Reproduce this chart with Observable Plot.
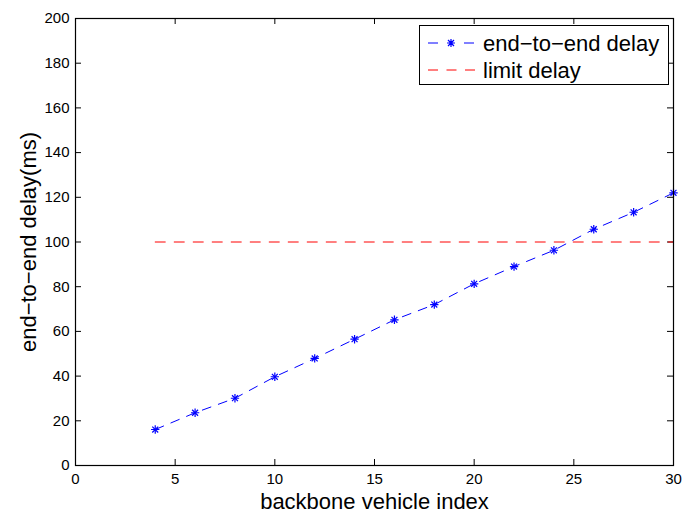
<!DOCTYPE html>
<html><head><meta charset="utf-8">
<script src="https://cdn.jsdelivr.net/npm/d3@7"></script>
<script src="https://cdn.jsdelivr.net/npm/@observablehq/plot@0.6"></script>
<style>
body{margin:0;background:#fff;}
#chart{position:relative;width:683px;height:513px;font-family:"Liberation Sans",Arial,Helvetica,sans-serif;}
#legend{position:absolute;left:0;top:0;}
</style></head><body><div id="chart"></div>
<script>
const vehicleIndex = [4, 6, 8, 10, 12, 14, 16, 18, 20, 22, 24, 26, 28, 30];
const endToEndDelay = [16.1, 23.6, 30.1, 39.7, 47.9, 56.5, 65.2, 72.0, 81.3, 89.0, 96.3, 105.7, 113.3, 122.0];
const limitIndex = [4, 30];
const limitDelay = [100, 100];
const xTicks = [0, 5, 10, 15, 20, 25, 30];
const yTicks = [0, 20, 40, 60, 80, 100, 120, 140, 160, 180, 200];
const seriesNames = ["end\u2212to\u2212end delay", "limit delay"];
const xLabel = "backbone vehicle index";
const yLabel = "end\u2212to\u2212end delay(ms)";

const W = 683, H = 513, mL = 75, mR = 10, mT = 18, mB = 48;
const fw = W - mL - mR, fh = H - mT - mB, tk = 6;
const font = '"Liberation Sans",Arial,Helvetica,sans-serif';

const mainData = vehicleIndex.map((x, i) => ({x, y: endToEndDelay[i]}));
const limitData = limitIndex.map((x, i) => ({x, y: limitDelay[i]}));

const chart = Plot.plot({
  width: W, height: H,
  marginLeft: mL, marginRight: mR, marginTop: mT, marginBottom: mB,
  style: {fontFamily: font, fontSize: "15px", color: "black", background: "white", overflow: "visible"},
  x: {domain: [0, 30]},
  y: {domain: [0, 200]},
  marks: [
    Plot.axisX(xTicks, {anchor: "bottom", tickSize: 0, tickPadding: 8, fontSize: 15, label: null}),
    Plot.axisY(yTicks, {anchor: "left", tickSize: 0, tickPadding: 6, fontSize: 15, label: null}),
    Plot.ruleX(xTicks, {x: d => d, insetTop: fh - tk, stroke: "black"}),
    Plot.ruleX(xTicks, {x: d => d, insetBottom: fh - tk, stroke: "black"}),
    Plot.ruleY(yTicks, {y: d => d, insetRight: fw - tk, stroke: "black"}),
    Plot.ruleY(yTicks, {y: d => d, insetLeft: fw - tk, stroke: "black"}),
    Plot.line(limitData, {x: "x", y: "y", stroke: "#ff0000", strokeWidth: 1, strokeDasharray: "10,9"}),
    Plot.line(mainData, {x: "x", y: "y", stroke: "#0000ff", strokeWidth: 1, strokeDasharray: "9,8"}),
    Plot.dot(mainData, {x: "x", y: "y", symbol: "plus", r: 2.8, stroke: "#0000ff", strokeWidth: 1.2}),
    Plot.dot(mainData, {x: "x", y: "y", symbol: "times", r: 2.8, stroke: "#0000ff", strokeWidth: 1.2}),
    Plot.frame({stroke: "black", strokeWidth: 1.2}),
    Plot.text([xLabel], {text: d => d, frameAnchor: "bottom", textAnchor: "middle", lineAnchor: "bottom", dy: 43, fontSize: 22}),
    Plot.text([yLabel], {text: d => d, frameAnchor: "left", textAnchor: "middle", rotate: -90, dx: -47, fontSize: 22})
  ]
});
document.getElementById("chart").appendChild(chart);

// legend
const lg = d3.select("#chart").append("svg").attr("id", "legend")
  .attr("width", W).attr("height", H).style("pointer-events", "none");
lg.append("rect").attr("x", 419.5).attr("y", 25.5).attr("width", 249).attr("height", 59)
  .attr("fill", "white").attr("stroke", "black").attr("stroke-width", 1);
const r1 = 43, r2 = 70;
lg.append("line").attr("x1", 428).attr("x2", 438).attr("y1", r1).attr("y2", r1).attr("stroke", "#0000ff");
lg.append("line").attr("x1", 464).attr("x2", 474).attr("y1", r1).attr("y2", r1).attr("stroke", "#0000ff");
const sym = lg.append("g").attr("transform", `translate(451,${r1})`).attr("stroke", "#0000ff").attr("stroke-width", 1.2);
sym.append("path").attr("d", "M-4,0H4M0,-4V4M-3,-3L3,3M-3,3L3,-3");
lg.append("line").attr("x1", 428).attr("x2", 475).attr("y1", r2).attr("y2", r2)
  .attr("stroke", "#ff0000").attr("stroke-dasharray", "10,8.5");
lg.selectAll("text.lab").data(seriesNames).join("text").attr("class", "lab")
  .attr("x", 483).attr("y", (d, i) => (i ? r2 : r1) + 7.5)
  .attr("font-family", font).attr("font-size", 22).attr("fill", "black").text(d => d);
</script>
</body></html>
